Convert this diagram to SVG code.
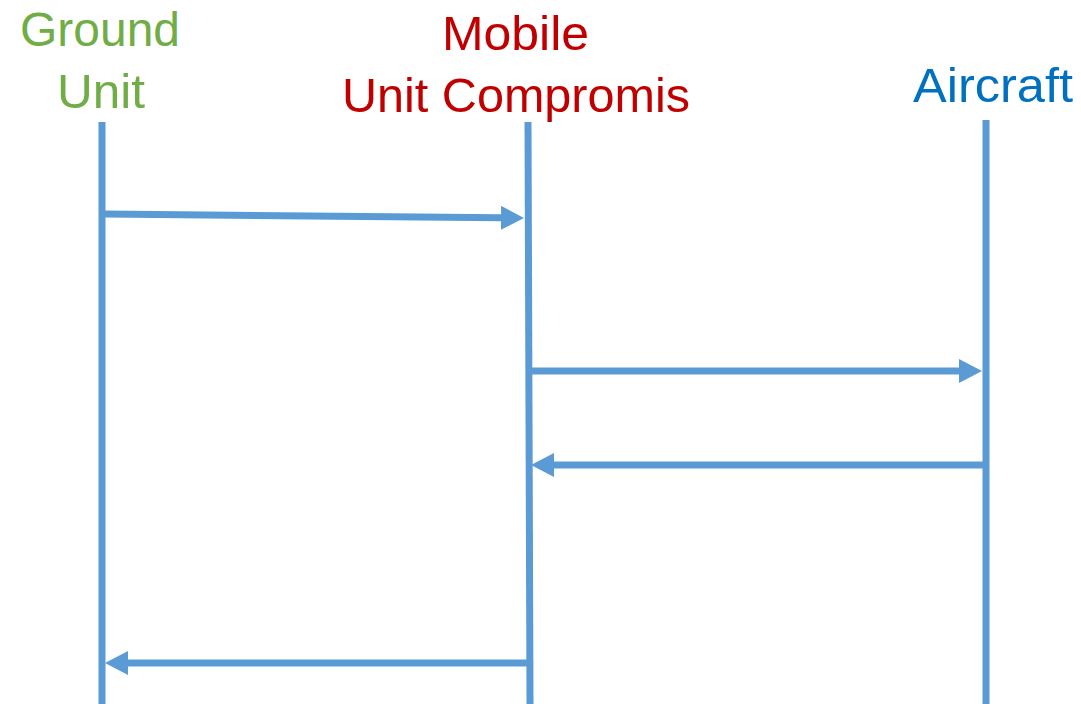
<svg xmlns="http://www.w3.org/2000/svg" width="1081" height="704" viewBox="0 0 1081 704">
  <style>
    .lbl { font-family: "Liberation Sans", "Open Sans", sans-serif; font-size: 48px; text-anchor: start; }
    .green { fill: #70AD47; }
    .red { fill: #C00000; }
    .blue { fill: #0070C0; }
    .life { stroke: #5B9BD5; stroke-width: 7; fill: none; }
    .msg { stroke: #5B9BD5; stroke-width: 7; fill: none; marker-end: url(#head); }
  </style>
  <defs>
    <marker id="head" markerUnits="userSpaceOnUse" markerWidth="23" markerHeight="24" viewBox="0 0 23 24" refX="0" refY="12" orient="auto">
      <path d="M0,0 L23,12 L0,24 Z" fill="#5B9BD5"/>
    </marker>
  </defs>
  <rect width="1081" height="704" fill="#FFFFFF"/>

  <g id="ground-unit">
    <text class="lbl green" x="20" y="46" textLength="160" lengthAdjust="spacingAndGlyphs">Ground</text>
    <text class="lbl green" x="57" y="108" textLength="88" lengthAdjust="spacingAndGlyphs">Unit</text>
    <line class="life" x1="102" y1="122" x2="102" y2="704"/>
  </g>

  <g id="mobile-unit">
    <text class="lbl red" x="442" y="50" textLength="147" lengthAdjust="spacingAndGlyphs">Mobile</text>
    <text class="lbl red" x="342" y="112" textLength="348" lengthAdjust="spacingAndGlyphs">Unit Compromis</text>
    <line class="life" x1="528" y1="122" x2="530" y2="704"/>
  </g>

  <g id="aircraft">
    <text class="lbl blue" x="913" y="102" textLength="160" lengthAdjust="spacingAndGlyphs">Aircraft</text>
    <line class="life" x1="986" y1="120" x2="986" y2="704"/>
  </g>

  <g id="connectors">
    <line class="msg" x1="105" y1="214" x2="501" y2="217.8"/>
    <line class="msg" x1="528" y1="371" x2="959" y2="371"/>
    <line class="msg" x1="986" y1="465" x2="554" y2="465"/>
    <line class="msg" x1="530" y1="663" x2="128" y2="663"/>
  </g>
</svg>
